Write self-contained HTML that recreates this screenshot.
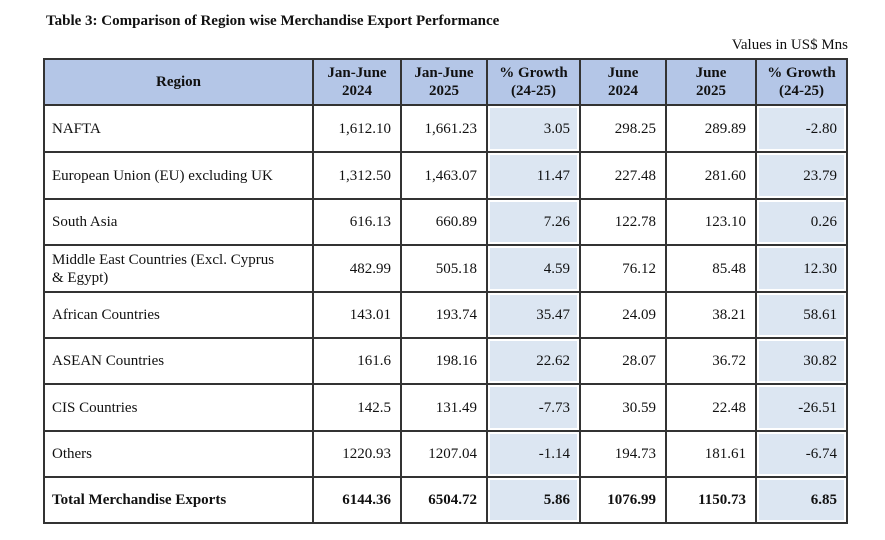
<!DOCTYPE html>
<html><head><meta charset="utf-8"><style>
body{margin:0;width:885px;height:540px;background:#fff;font-family:"Liberation Serif",serif;color:#111;position:relative;overflow:hidden}
.t{position:absolute;font-size:15px;white-space:nowrap}
.c{position:absolute;box-sizing:border-box;display:flex;align-items:center;font-size:15px;line-height:18px}
.r{justify-content:flex-end;padding-right:10px}
.l{padding-left:8px}
.h{justify-content:center;text-align:center;font-weight:bold;background:#b4c6e7}
.s{background:#dce6f2;box-shadow:inset 0 0 0 3px #fff}
.b{font-weight:bold}
.v{position:absolute;background:#333;width:2px}
.hz{position:absolute;background:#333;height:2px}
</style></head><body>
<div class="t b" style="left:46px;top:13px;font-weight:bold">Table 3: Comparison of Region wise Merchandise Export Performance</div>
<div class="t" style="right:37px;top:37px">Values in US$ Mns</div>
<div id="tbl"></div>
<script>
const xs=[44,313,401,487,580,666,756,847];
const ys=[59,105,152,199,245,292,338,384,431,477,523];
const headers=["Region","Jan-June<br>2024","Jan-June<br>2025","% Growth<br>(24-25)","June<br>2024","June<br>2025","% Growth<br>(24-25)"];
const regions=["NAFTA","European Union (EU) excluding UK","South Asia","Middle East Countries (Excl. Cyprus<br>&amp; Egypt)","African Countries","ASEAN Countries","CIS Countries","Others","Total Merchandise Exports"];
const janJun24=["1,612.10","1,312.50","616.13","482.99","143.01","161.6","142.5","1220.93","6144.36"];
const janJun25=["1,661.23","1,463.07","660.89","505.18","193.74","198.16","131.49","1207.04","6504.72"];
const growthHY=["3.05","11.47","7.26","4.59","35.47","22.62","-7.73","-1.14","5.86"];
const june24=["298.25","227.48","122.78","76.12","24.09","28.07","30.59","194.73","1076.99"];
const june25=["289.89","281.60","123.10","85.48","38.21","36.72","22.48","181.61","1150.73"];
const growthJune=["-2.80","23.79","0.26","12.30","58.61","30.82","-26.51","-6.74","6.85"];
const root=document.getElementById('tbl');
function cell(ci,ri,html,cls,name){
  const d=document.createElement('div');
  d.className='c '+cls;
  d.style.left=xs[ci]+'px';d.style.top=ys[ri]+'px';
  d.style.width=(xs[ci+1]-xs[ci])+'px';d.style.height=(ys[ri+1]-ys[ri])+'px';
  d.innerHTML=html;
  
  
  root.appendChild(d);
}
headers.forEach((h,i)=>cell(i,0,h,'h','header-cell'));
const cols=[janJun24,janJun25,growthHY,june24,june25,growthJune];
regions.forEach((r,i)=>{
  const bold=i===regions.length-1?' b':'';
  cell(0,i+1,r,'l'+bold,'region-cell');
  cols.forEach((c,j)=>cell(j+1,i+1,c[i],'r'+bold+((j===2||j===5)?' s':''),'value-cell'));
});
xs.forEach(x=>{const d=document.createElement('div');d.className='v';d.style.left=(x-1)+'px';d.style.top=ys[0]-1+'px';d.style.height=(ys[ys.length-1]-ys[0]+2)+'px';


root.appendChild(d);});
ys.forEach(y=>{const d=document.createElement('div');d.className='hz';d.style.top=(y-1)+'px';d.style.left=xs[0]-1+'px';d.style.width=(xs[xs.length-1]-xs[0]+2)+'px';


root.appendChild(d);});
</script>
</body></html>
